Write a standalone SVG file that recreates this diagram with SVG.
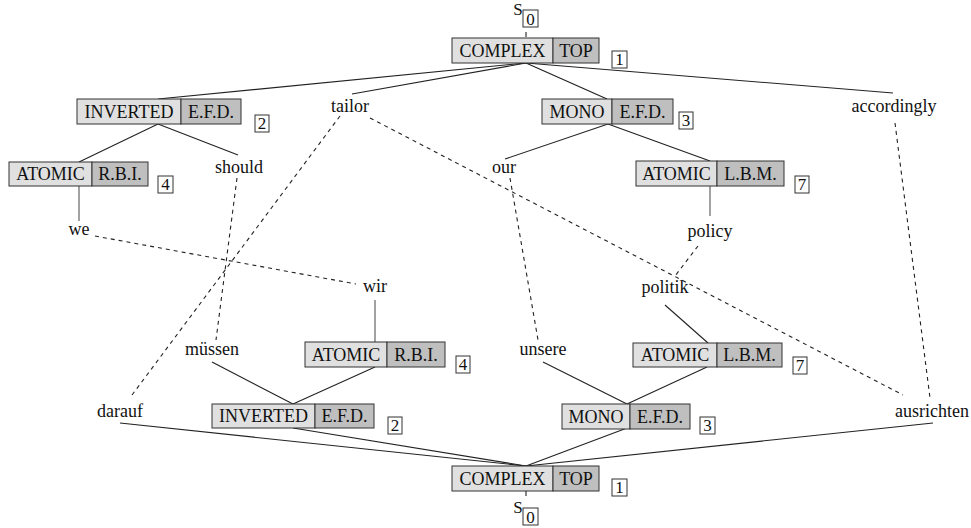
<svg xmlns="http://www.w3.org/2000/svg" width="971" height="528" viewBox="0 0 971 528" font-family="'Liberation Serif', 'Times New Roman', Times, serif">
<style>
text{font-family:'Liberation Serif','Times New Roman',Times,serif;fill:#111}
.t{font-size:18px;text-anchor:middle}
.n{font-size:17px;text-anchor:middle}
.lt{fill:#e0e0e0;stroke:#333;stroke-width:1}
.dk{fill:#bfbfbf;stroke:#333;stroke-width:1}
.lb{fill:#fff;stroke:#333;stroke-width:1}
.s{stroke:#222;stroke-width:1.1;fill:none}
.g{stroke:#555;stroke-width:1.1;fill:none}
.d{stroke:#222;stroke-width:1.1;fill:none;stroke-dasharray:4 4}
</style>
<rect width="971" height="528" fill="#fff"/>
<g id="connectors">
<line class="s" x1="526" y1="63" x2="158" y2="99"/>
<line class="s" x1="526" y1="63" x2="352" y2="94"/>
<line class="s" x1="526" y1="63" x2="607" y2="99"/>
<line class="s" x1="526" y1="63" x2="893" y2="93"/>
<line class="s" x1="158" y1="124" x2="79" y2="162"/>
<line class="s" x1="158" y1="124" x2="238" y2="155"/>
<line class="s" x1="608" y1="124" x2="505" y2="159"/>
<line class="s" x1="608" y1="124" x2="710" y2="161"/>
<line class="g" x1="79" y1="186" x2="79" y2="221"/>
<line class="g" x1="710" y1="185" x2="710" y2="216"/>
<line class="g" x1="375" y1="300" x2="375" y2="342"/>
<line class="s" x1="375" y1="367" x2="293" y2="404"/>
<line class="s" x1="212" y1="362" x2="293" y2="404"/>
<line class="s" x1="665" y1="305" x2="708" y2="343"/>
<line class="s" x1="707" y1="367" x2="627" y2="404"/>
<line class="s" x1="543" y1="362" x2="627" y2="404"/>
<line class="s" x1="120" y1="423" x2="526" y2="466"/>
<line class="s" x1="293" y1="428" x2="526" y2="466"/>
<line class="s" x1="627" y1="428" x2="526" y2="466"/>
<line class="s" x1="933" y1="423" x2="526" y2="466"/>
<line class="s" x1="526" y1="32" x2="526" y2="37"/>
<line class="s" x1="526" y1="491" x2="526" y2="496"/>
<line class="d" x1="340" y1="116" x2="132" y2="395"/>
<line class="d" x1="237" y1="178" x2="216" y2="340"/>
<line class="d" x1="95" y1="236" x2="356" y2="284"/>
<line class="d" x1="370" y1="118" x2="903" y2="395"/>
<line class="d" x1="510" y1="178" x2="538" y2="340"/>
<line class="d" x1="698" y1="246" x2="675" y2="276"/>
<line class="d" x1="895" y1="123" x2="930" y2="398"/>
</g>
<g id="s0-top">
<text x="518" y="15" class="n">S</text>
<rect class="lb" x="523" y="10" width="15" height="17"/>
<text x="530.5" y="25" class="n">0</text>
</g>
<g id="root-top">
<rect class="lt" x="452" y="38" width="101" height="25"/>
<rect class="dk" x="553" y="38" width="46" height="25"/>
<text x="502.5" y="57" class="t">COMPLEX</text>
<text x="576" y="57" class="t">TOP</text>
<rect class="lb" x="612" y="51" width="15" height="17"/>
<text x="619.5" y="65" class="n">1</text>
</g>
<g id="inv-top">
<rect class="lt" x="77" y="99" width="104" height="25"/>
<rect class="dk" x="181" y="99" width="60" height="25"/>
<text x="129" y="118" class="t">INVERTED</text>
<text x="211" y="118" class="t">E.F.D.</text>
<rect class="lb" x="255" y="115" width="14" height="17"/>
<text x="262" y="129" class="n">2</text>
</g>
<g id="tailor"><text x="350" y="112" class="t">tailor</text></g>
<g id="mono-top">
<rect class="lt" x="542" y="99" width="70" height="25"/>
<rect class="dk" x="612" y="99" width="61" height="25"/>
<text x="577" y="118" class="t">MONO</text>
<text x="642.5" y="118" class="t">E.F.D.</text>
<rect class="lb" x="679" y="112" width="14" height="17"/>
<text x="686" y="126" class="n">3</text>
</g>
<g id="accordingly"><text x="894" y="112" class="t">accordingly</text></g>
<g id="atomic-rbi-top">
<rect class="lt" x="9" y="162" width="83" height="24"/>
<rect class="dk" x="92" y="162" width="56" height="24"/>
<text x="50.5" y="180" class="t">ATOMIC</text>
<text x="120" y="180" class="t">R.B.I.</text>
<rect class="lb" x="158" y="176" width="15" height="17"/>
<text x="165.5" y="190" class="n">4</text>
</g>
<g id="should"><text x="239" y="173" class="t">should</text></g>
<g id="our"><text x="504" y="173" class="t">our</text></g>
<g id="atomic-lbm-top">
<rect class="lt" x="636" y="161" width="81" height="25"/>
<rect class="dk" x="717" y="161" width="67" height="25"/>
<text x="676.5" y="180" class="t">ATOMIC</text>
<text x="750.5" y="180" class="t">L.B.M.</text>
<rect class="lb" x="795" y="176" width="14" height="17"/>
<text x="802" y="190" class="n">7</text>
</g>
<g id="we"><text x="79" y="235" class="t">we</text></g>
<g id="policy"><text x="710" y="237" class="t">policy</text></g>
<g id="wir"><text x="375" y="292" class="t">wir</text></g>
<g id="politik"><text x="665" y="293" class="t">politik</text></g>
<g id="muessen"><text x="212" y="355" class="t">müssen</text></g>
<g id="atomic-rbi-bot">
<rect class="lt" x="305" y="342" width="82" height="25"/>
<rect class="dk" x="387" y="342" width="58" height="25"/>
<text x="346" y="361" class="t">ATOMIC</text>
<text x="416" y="361" class="t">R.B.I.</text>
<rect class="lb" x="456" y="356" width="14" height="17"/>
<text x="463" y="370" class="n">4</text>
</g>
<g id="unsere"><text x="543" y="355" class="t">unsere</text></g>
<g id="atomic-lbm-bot">
<rect class="lt" x="633" y="343" width="84" height="24"/>
<rect class="dk" x="717" y="343" width="65" height="24"/>
<text x="675" y="361" class="t">ATOMIC</text>
<text x="749.5" y="361" class="t">L.B.M.</text>
<rect class="lb" x="793" y="357" width="14" height="17"/>
<text x="800" y="371" class="n">7</text>
</g>
<g id="darauf"><text x="120" y="417" class="t">darauf</text></g>
<g id="inv-bot">
<rect class="lt" x="212" y="404" width="103" height="24"/>
<rect class="dk" x="315" y="404" width="59" height="24"/>
<text x="263.5" y="422" class="t">INVERTED</text>
<text x="344.5" y="422" class="t">E.F.D.</text>
<rect class="lb" x="388" y="417" width="14" height="17"/>
<text x="395" y="431" class="n">2</text>
</g>
<g id="mono-bot">
<rect class="lt" x="562" y="404" width="68" height="25"/>
<rect class="dk" x="630" y="404" width="60" height="25"/>
<text x="596" y="423" class="t">MONO</text>
<text x="660" y="423" class="t">E.F.D.</text>
<rect class="lb" x="700" y="417" width="15" height="17"/>
<text x="707.5" y="431" class="n">3</text>
</g>
<g id="ausrichten"><text x="932" y="417" class="t">ausrichten</text></g>
<g id="root-bot">
<rect class="lt" x="452" y="466" width="101" height="25"/>
<rect class="dk" x="553" y="466" width="46" height="25"/>
<text x="502.5" y="485" class="t">COMPLEX</text>
<text x="576" y="485" class="t">TOP</text>
<rect class="lb" x="612" y="479" width="15" height="17"/>
<text x="619.5" y="493" class="n">1</text>
</g>
<g id="s0-bot">
<text x="518" y="513" class="n">S</text>
<rect class="lb" x="523" y="508" width="15" height="17"/>
<text x="530.5" y="523" class="n">0</text>
</g>
</svg>
